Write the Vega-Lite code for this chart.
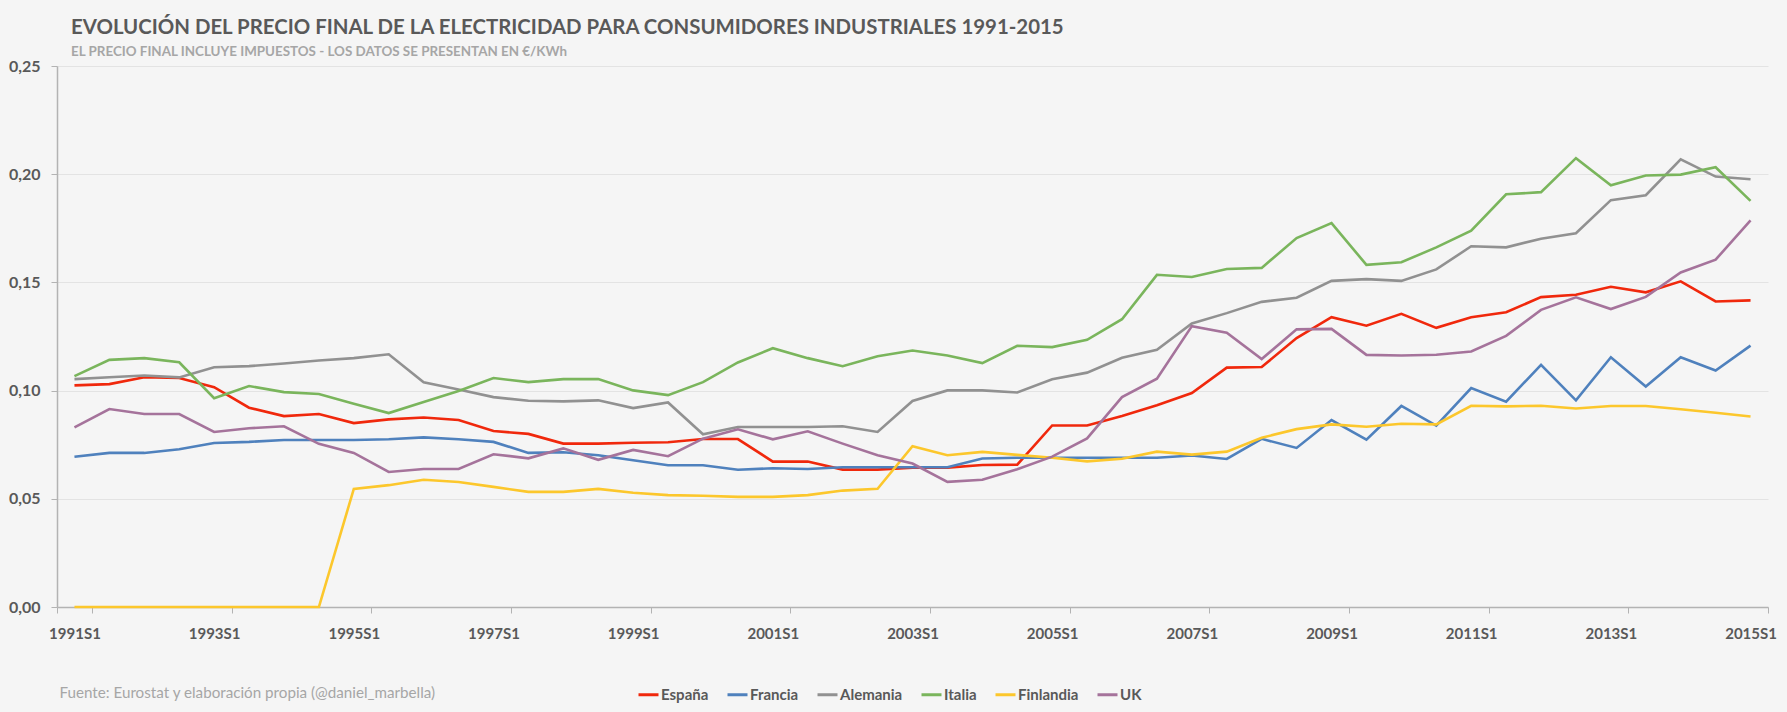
{
"$schema": "https://vega.github.io/schema/vega-lite/v6.json",
"width": 1711, "height": 541,
"autosize": {"type": "none"},
"padding": {"left": 57, "top": 66, "right": 19, "bottom": 105},
"background": "#f5f5f5",
"title": {"text": "EVOLUCIÓN DEL PRECIO FINAL DE LA ELECTRICIDAD PARA CONSUMIDORES INDUSTRIALES 1991-2015", "subtitle": "EL PRECIO FINAL INCLUYE IMPUESTOS - LOS DATOS SE PRESENTAN EN €/KWh", "anchor": "start", "frame": "group", "dx": 14, "offset": 0, "font": "Lato", "fontSize": 20.4, "fontWeight": "bold", "color": "#595959", "subtitleFont": "Lato", "subtitleFontSize": 13.4, "subtitleFontWeight": "bold", "subtitleColor": "#a6a6a6", "subtitlePadding": 6},
"datasets": {"d": [
{"periodo":"1991S1","pais":"España","precio":0.1024},{"periodo":"1991S2","pais":"España","precio":0.1030},{"periodo":"1992S1","pais":"España","precio":0.1062},{"periodo":"1992S2","pais":"España","precio":0.1058},{"periodo":"1993S1","pais":"España","precio":0.1016},{"periodo":"1993S2","pais":"España","precio":0.0921},{"periodo":"1994S1","pais":"España","precio":0.0882},{"periodo":"1994S2","pais":"España","precio":0.0892},{"periodo":"1995S1","pais":"España","precio":0.0850},{"periodo":"1995S2","pais":"España","precio":0.0867},{"periodo":"1996S1","pais":"España","precio":0.0876},{"periodo":"1996S2","pais":"España","precio":0.0864},{"periodo":"1997S1","pais":"España","precio":0.0813},{"periodo":"1997S2","pais":"España","precio":0.0800},{"periodo":"1998S1","pais":"España","precio":0.0755},{"periodo":"1998S2","pais":"España","precio":0.0755},{"periodo":"1999S1","pais":"España","precio":0.0759},{"periodo":"1999S2","pais":"España","precio":0.0761},{"periodo":"2000S1","pais":"España","precio":0.0776},{"periodo":"2000S2","pais":"España","precio":0.0776},{"periodo":"2001S1","pais":"España","precio":0.0672},{"periodo":"2001S2","pais":"España","precio":0.0672},{"periodo":"2002S1","pais":"España","precio":0.0635},{"periodo":"2002S2","pais":"España","precio":0.0635},{"periodo":"2003S1","pais":"España","precio":0.0644},{"periodo":"2003S2","pais":"España","precio":0.0644},{"periodo":"2004S1","pais":"España","precio":0.0656},{"periodo":"2004S2","pais":"España","precio":0.0658},{"periodo":"2005S1","pais":"España","precio":0.0839},{"periodo":"2005S2","pais":"España","precio":0.0839},{"periodo":"2006S1","pais":"España","precio":0.0883},{"periodo":"2006S2","pais":"España","precio":0.0932},{"periodo":"2007S1","pais":"España","precio":0.0989},{"periodo":"2007S2","pais":"España","precio":0.1106},{"periodo":"2008S1","pais":"España","precio":0.1109},{"periodo":"2008S2","pais":"España","precio":0.1243},{"periodo":"2009S1","pais":"España","precio":0.1339},{"periodo":"2009S2","pais":"España","precio":0.1300},{"periodo":"2010S1","pais":"España","precio":0.1355},{"periodo":"2010S2","pais":"España","precio":0.1290},{"periodo":"2011S1","pais":"España","precio":0.1339},{"periodo":"2011S2","pais":"España","precio":0.1362},{"periodo":"2012S1","pais":"España","precio":0.1432},{"periodo":"2012S2","pais":"España","precio":0.1443},{"periodo":"2013S1","pais":"España","precio":0.1480},{"periodo":"2013S2","pais":"España","precio":0.1454},{"periodo":"2014S1","pais":"España","precio":0.1505},{"periodo":"2014S2","pais":"España","precio":0.1412},{"periodo":"2015S1","pais":"España","precio":0.1417},
{"periodo":"1991S1","pais":"Francia","precio":0.0694},{"periodo":"1991S2","pais":"Francia","precio":0.0712},{"periodo":"1992S1","pais":"Francia","precio":0.0712},{"periodo":"1992S2","pais":"Francia","precio":0.0729},{"periodo":"1993S1","pais":"Francia","precio":0.0758},{"periodo":"1993S2","pais":"Francia","precio":0.0763},{"periodo":"1994S1","pais":"Francia","precio":0.0772},{"periodo":"1994S2","pais":"Francia","precio":0.0772},{"periodo":"1995S1","pais":"Francia","precio":0.0772},{"periodo":"1995S2","pais":"Francia","precio":0.0775},{"periodo":"1996S1","pais":"Francia","precio":0.0784},{"periodo":"1996S2","pais":"Francia","precio":0.0775},{"periodo":"1997S1","pais":"Francia","precio":0.0763},{"periodo":"1997S2","pais":"Francia","precio":0.0712},{"periodo":"1998S1","pais":"Francia","precio":0.0715},{"periodo":"1998S2","pais":"Francia","precio":0.0701},{"periodo":"1999S1","pais":"Francia","precio":0.0678},{"periodo":"1999S2","pais":"Francia","precio":0.0655},{"periodo":"2000S1","pais":"Francia","precio":0.0655},{"periodo":"2000S2","pais":"Francia","precio":0.0634},{"periodo":"2001S1","pais":"Francia","precio":0.0641},{"periodo":"2001S2","pais":"Francia","precio":0.0638},{"periodo":"2002S1","pais":"Francia","precio":0.0646},{"periodo":"2002S2","pais":"Francia","precio":0.0646},{"periodo":"2003S1","pais":"Francia","precio":0.0646},{"periodo":"2003S2","pais":"Francia","precio":0.0646},{"periodo":"2004S1","pais":"Francia","precio":0.0686},{"periodo":"2004S2","pais":"Francia","precio":0.0690},{"periodo":"2005S1","pais":"Francia","precio":0.0690},{"periodo":"2005S2","pais":"Francia","precio":0.0690},{"periodo":"2006S1","pais":"Francia","precio":0.0690},{"periodo":"2006S2","pais":"Francia","precio":0.0690},{"periodo":"2007S1","pais":"Francia","precio":0.0700},{"periodo":"2007S2","pais":"Francia","precio":0.0684},{"periodo":"2008S1","pais":"Francia","precio":0.0777},{"periodo":"2008S2","pais":"Francia","precio":0.0735},{"periodo":"2009S1","pais":"Francia","precio":0.0864},{"periodo":"2009S2","pais":"Francia","precio":0.0773},{"periodo":"2010S1","pais":"Francia","precio":0.0929},{"periodo":"2010S2","pais":"Francia","precio":0.0838},{"periodo":"2011S1","pais":"Francia","precio":0.1012},{"periodo":"2011S2","pais":"Francia","precio":0.0949},{"periodo":"2012S1","pais":"Francia","precio":0.1119},{"periodo":"2012S2","pais":"Francia","precio":0.0955},{"periodo":"2013S1","pais":"Francia","precio":0.1154},{"periodo":"2013S2","pais":"Francia","precio":0.1019},{"periodo":"2014S1","pais":"Francia","precio":0.1154},{"periodo":"2014S2","pais":"Francia","precio":0.1093},{"periodo":"2015S1","pais":"Francia","precio":0.1208},
{"periodo":"1991S1","pais":"Alemania","precio":0.1053},{"periodo":"1991S2","pais":"Alemania","precio":0.1062},{"periodo":"1992S1","pais":"Alemania","precio":0.1070},{"periodo":"1992S2","pais":"Alemania","precio":0.1061},{"periodo":"1993S1","pais":"Alemania","precio":0.1108},{"periodo":"1993S2","pais":"Alemania","precio":0.1113},{"periodo":"1994S1","pais":"Alemania","precio":0.1125},{"periodo":"1994S2","pais":"Alemania","precio":0.1139},{"periodo":"1995S1","pais":"Alemania","precio":0.1150},{"periodo":"1995S2","pais":"Alemania","precio":0.1168},{"periodo":"1996S1","pais":"Alemania","precio":0.1038},{"periodo":"1996S2","pais":"Alemania","precio":0.1005},{"periodo":"1997S1","pais":"Alemania","precio":0.0970},{"periodo":"1997S2","pais":"Alemania","precio":0.0953},{"periodo":"1998S1","pais":"Alemania","precio":0.0950},{"periodo":"1998S2","pais":"Alemania","precio":0.0955},{"periodo":"1999S1","pais":"Alemania","precio":0.0919},{"periodo":"1999S2","pais":"Alemania","precio":0.0945},{"periodo":"2000S1","pais":"Alemania","precio":0.0798},{"periodo":"2000S2","pais":"Alemania","precio":0.0832},{"periodo":"2001S1","pais":"Alemania","precio":0.0832},{"periodo":"2001S2","pais":"Alemania","precio":0.0832},{"periodo":"2002S1","pais":"Alemania","precio":0.0835},{"periodo":"2002S2","pais":"Alemania","precio":0.0809},{"periodo":"2003S1","pais":"Alemania","precio":0.0952},{"periodo":"2003S2","pais":"Alemania","precio":0.1001},{"periodo":"2004S1","pais":"Alemania","precio":0.1001},{"periodo":"2004S2","pais":"Alemania","precio":0.0991},{"periodo":"2005S1","pais":"Alemania","precio":0.1052},{"periodo":"2005S2","pais":"Alemania","precio":0.1083},{"periodo":"2006S1","pais":"Alemania","precio":0.1152},{"periodo":"2006S2","pais":"Alemania","precio":0.1189},{"periodo":"2007S1","pais":"Alemania","precio":0.1310},{"periodo":"2007S2","pais":"Alemania","precio":0.1358},{"periodo":"2008S1","pais":"Alemania","precio":0.1410},{"periodo":"2008S2","pais":"Alemania","precio":0.1429},{"periodo":"2009S1","pais":"Alemania","precio":0.1507},{"periodo":"2009S2","pais":"Alemania","precio":0.1515},{"periodo":"2010S1","pais":"Alemania","precio":0.1507},{"periodo":"2010S2","pais":"Alemania","precio":0.1560},{"periodo":"2011S1","pais":"Alemania","precio":0.1667},{"periodo":"2011S2","pais":"Alemania","precio":0.1662},{"periodo":"2012S1","pais":"Alemania","precio":0.1702},{"periodo":"2012S2","pais":"Alemania","precio":0.1727},{"periodo":"2013S1","pais":"Alemania","precio":0.1880},{"periodo":"2013S2","pais":"Alemania","precio":0.1903},{"periodo":"2014S1","pais":"Alemania","precio":0.2069},{"periodo":"2014S2","pais":"Alemania","precio":0.1989},{"periodo":"2015S1","pais":"Alemania","precio":0.1977},
{"periodo":"1991S1","pais":"Italia","precio":0.1067},{"periodo":"1991S2","pais":"Italia","precio":0.1142},{"periodo":"1992S1","pais":"Italia","precio":0.1150},{"periodo":"1992S2","pais":"Italia","precio":0.1131},{"periodo":"1993S1","pais":"Italia","precio":0.0965},{"periodo":"1993S2","pais":"Italia","precio":0.1021},{"periodo":"1994S1","pais":"Italia","precio":0.0993},{"periodo":"1994S2","pais":"Italia","precio":0.0984},{"periodo":"1995S1","pais":"Italia","precio":0.0939},{"periodo":"1995S2","pais":"Italia","precio":0.0896},{"periodo":"1996S1","pais":"Italia","precio":0.0947},{"periodo":"1996S2","pais":"Italia","precio":0.0998},{"periodo":"1997S1","pais":"Italia","precio":0.1058},{"periodo":"1997S2","pais":"Italia","precio":0.1039},{"periodo":"1998S1","pais":"Italia","precio":0.1053},{"periodo":"1998S2","pais":"Italia","precio":0.1053},{"periodo":"1999S1","pais":"Italia","precio":0.1001},{"periodo":"1999S2","pais":"Italia","precio":0.0979},{"periodo":"2000S1","pais":"Italia","precio":0.1039},{"periodo":"2000S2","pais":"Italia","precio":0.1130},{"periodo":"2001S1","pais":"Italia","precio":0.1196},{"periodo":"2001S2","pais":"Italia","precio":0.1150},{"periodo":"2002S1","pais":"Italia","precio":0.1113},{"periodo":"2002S2","pais":"Italia","precio":0.1159},{"periodo":"2003S1","pais":"Italia","precio":0.1185},{"periodo":"2003S2","pais":"Italia","precio":0.1162},{"periodo":"2004S1","pais":"Italia","precio":0.1127},{"periodo":"2004S2","pais":"Italia","precio":0.1207},{"periodo":"2005S1","pais":"Italia","precio":0.1201},{"periodo":"2005S2","pais":"Italia","precio":0.1235},{"periodo":"2006S1","pais":"Italia","precio":0.1330},{"periodo":"2006S2","pais":"Italia","precio":0.1535},{"periodo":"2007S1","pais":"Italia","precio":0.1525},{"periodo":"2007S2","pais":"Italia","precio":0.1562},{"periodo":"2008S1","pais":"Italia","precio":0.1567},{"periodo":"2008S2","pais":"Italia","precio":0.1705},{"periodo":"2009S1","pais":"Italia","precio":0.1774},{"periodo":"2009S2","pais":"Italia","precio":0.1581},{"periodo":"2010S1","pais":"Italia","precio":0.1593},{"periodo":"2010S2","pais":"Italia","precio":0.1662},{"periodo":"2011S1","pais":"Italia","precio":0.1739},{"periodo":"2011S2","pais":"Italia","precio":0.1907},{"periodo":"2012S1","pais":"Italia","precio":0.1917},{"periodo":"2012S2","pais":"Italia","precio":0.2074},{"periodo":"2013S1","pais":"Italia","precio":0.1949},{"periodo":"2013S2","pais":"Italia","precio":0.1994},{"periodo":"2014S1","pais":"Italia","precio":0.1998},{"periodo":"2014S2","pais":"Italia","precio":0.2032},{"periodo":"2015S1","pais":"Italia","precio":0.1877},
{"periodo":"1991S1","pais":"Finlandia","precio":0},{"periodo":"1991S2","pais":"Finlandia","precio":0},{"periodo":"1992S1","pais":"Finlandia","precio":0},{"periodo":"1992S2","pais":"Finlandia","precio":0},{"periodo":"1993S1","pais":"Finlandia","precio":0},{"periodo":"1993S2","pais":"Finlandia","precio":0},{"periodo":"1994S1","pais":"Finlandia","precio":0},{"periodo":"1994S2","pais":"Finlandia","precio":0},{"periodo":"1995S1","pais":"Finlandia","precio":0.0546},{"periodo":"1995S2","pais":"Finlandia","precio":0.0563},{"periodo":"1996S1","pais":"Finlandia","precio":0.0588},{"periodo":"1996S2","pais":"Finlandia","precio":0.0578},{"periodo":"1997S1","pais":"Finlandia","precio":0.0555},{"periodo":"1997S2","pais":"Finlandia","precio":0.0532},{"periodo":"1998S1","pais":"Finlandia","precio":0.0532},{"periodo":"1998S2","pais":"Finlandia","precio":0.0546},{"periodo":"1999S1","pais":"Finlandia","precio":0.0528},{"periodo":"1999S2","pais":"Finlandia","precio":0.0517},{"periodo":"2000S1","pais":"Finlandia","precio":0.0514},{"periodo":"2000S2","pais":"Finlandia","precio":0.0509},{"periodo":"2001S1","pais":"Finlandia","precio":0.0509},{"periodo":"2001S2","pais":"Finlandia","precio":0.0517},{"periodo":"2002S1","pais":"Finlandia","precio":0.0538},{"periodo":"2002S2","pais":"Finlandia","precio":0.0546},{"periodo":"2003S1","pais":"Finlandia","precio":0.0743},{"periodo":"2003S2","pais":"Finlandia","precio":0.0701},{"periodo":"2004S1","pais":"Finlandia","precio":0.0717},{"periodo":"2004S2","pais":"Finlandia","precio":0.0703},{"periodo":"2005S1","pais":"Finlandia","precio":0.0690},{"periodo":"2005S2","pais":"Finlandia","precio":0.0673},{"periodo":"2006S1","pais":"Finlandia","precio":0.0685},{"periodo":"2006S2","pais":"Finlandia","precio":0.0718},{"periodo":"2007S1","pais":"Finlandia","precio":0.0704},{"periodo":"2007S2","pais":"Finlandia","precio":0.0718},{"periodo":"2008S1","pais":"Finlandia","precio":0.0782},{"periodo":"2008S2","pais":"Finlandia","precio":0.0822},{"periodo":"2009S1","pais":"Finlandia","precio":0.0844},{"periodo":"2009S2","pais":"Finlandia","precio":0.0833},{"periodo":"2010S1","pais":"Finlandia","precio":0.0847},{"periodo":"2010S2","pais":"Finlandia","precio":0.0844},{"periodo":"2011S1","pais":"Finlandia","precio":0.0930},{"periodo":"2011S2","pais":"Finlandia","precio":0.0927},{"periodo":"2012S1","pais":"Finlandia","precio":0.0930},{"periodo":"2012S2","pais":"Finlandia","precio":0.0917},{"periodo":"2013S1","pais":"Finlandia","precio":0.0929},{"periodo":"2013S2","pais":"Finlandia","precio":0.0929},{"periodo":"2014S1","pais":"Finlandia","precio":0.0914},{"periodo":"2014S2","pais":"Finlandia","precio":0.0898},{"periodo":"2015S1","pais":"Finlandia","precio":0.0880},
{"periodo":"1991S1","pais":"UK","precio":0.0830},{"periodo":"1991S2","pais":"UK","precio":0.0915},{"periodo":"1992S1","pais":"UK","precio":0.0892},{"periodo":"1992S2","pais":"UK","precio":0.0892},{"periodo":"1993S1","pais":"UK","precio":0.0809},{"periodo":"1993S2","pais":"UK","precio":0.0826},{"periodo":"1994S1","pais":"UK","precio":0.0835},{"periodo":"1994S2","pais":"UK","precio":0.0754},{"periodo":"1995S1","pais":"UK","precio":0.0712},{"periodo":"1995S2","pais":"UK","precio":0.0624},{"periodo":"1996S1","pais":"UK","precio":0.0638},{"periodo":"1996S2","pais":"UK","precio":0.0638},{"periodo":"1997S1","pais":"UK","precio":0.0706},{"periodo":"1997S2","pais":"UK","precio":0.0687},{"periodo":"1998S1","pais":"UK","precio":0.0733},{"periodo":"1998S2","pais":"UK","precio":0.0680},{"periodo":"1999S1","pais":"UK","precio":0.0726},{"periodo":"1999S2","pais":"UK","precio":0.0697},{"periodo":"2000S1","pais":"UK","precio":0.0778},{"periodo":"2000S2","pais":"UK","precio":0.0821},{"periodo":"2001S1","pais":"UK","precio":0.0775},{"periodo":"2001S2","pais":"UK","precio":0.0812},{"periodo":"2002S1","pais":"UK","precio":0.0755},{"periodo":"2002S2","pais":"UK","precio":0.0701},{"periodo":"2003S1","pais":"UK","precio":0.0663},{"periodo":"2003S2","pais":"UK","precio":0.0578},{"periodo":"2004S1","pais":"UK","precio":0.0588},{"periodo":"2004S2","pais":"UK","precio":0.0637},{"periodo":"2005S1","pais":"UK","precio":0.0695},{"periodo":"2005S2","pais":"UK","precio":0.0779},{"periodo":"2006S1","pais":"UK","precio":0.0970},{"periodo":"2006S2","pais":"UK","precio":0.1055},{"periodo":"2007S1","pais":"UK","precio":0.1298},{"periodo":"2007S2","pais":"UK","precio":0.1267},{"periodo":"2008S1","pais":"UK","precio":0.1146},{"periodo":"2008S2","pais":"UK","precio":0.1283},{"periodo":"2009S1","pais":"UK","precio":0.1285},{"periodo":"2009S2","pais":"UK","precio":0.1165},{"periodo":"2010S1","pais":"UK","precio":0.1162},{"periodo":"2010S2","pais":"UK","precio":0.1166},{"periodo":"2011S1","pais":"UK","precio":0.1181},{"periodo":"2011S2","pais":"UK","precio":0.1253},{"periodo":"2012S1","pais":"UK","precio":0.1373},{"periodo":"2012S2","pais":"UK","precio":0.1431},{"periodo":"2013S1","pais":"UK","precio":0.1377},{"periodo":"2013S2","pais":"UK","precio":0.1433},{"periodo":"2014S1","pais":"UK","precio":0.1546},{"periodo":"2014S2","pais":"UK","precio":0.1605},{"periodo":"2015S1","pais":"UK","precio":0.1787}
]},
"data": {"name": "d"},
"mark": {"type": "line", "strokeWidth": 2.6},
"encoding": {
"x": {"field": "periodo", "type": "ordinal", "scale": {"type": "band", "paddingInner": 0, "paddingOuter": 0},
"axis": {"values": ["1991S1","1993S1","1995S1","1997S1","1999S1","2001S1","2003S1","2005S1","2007S1","2009S1","2011S1","2013S1","2015S1"], "tickBand": "extent", "labelAngle": 0, "grid": false, "domainColor": "#b3b3b3", "domainWidth": 1.5, "tickColor": "#b3b3b3", "tickSize": 6, "labelFont": "Lato", "labelFontWeight": "bold", "labelFontSize": 15, "labelColor": "#595959", "labelPadding": 13, "title": "Fuente:  Eurostat y elaboración propia (@daniel_marbella)", "titleAnchor": "start", "titleAlign": "left", "titleX": 2, "titleY": 85, "titleBaseline": "middle", "titleFont": "Lato", "titleFontWeight": "normal", "titleFontSize": 15.2, "titleColor": "#a6a6a6"}},
"y": {"field": "precio", "type": "quantitative", "scale": {"domain": [0, 0.25], "nice": false},
"axis": {"values": [0, 0.05, 0.1, 0.15, 0.2, 0.25], "labelExpr": "replace(format(datum.value, '.2f'), '.', ',')", "title": null, "grid": true, "gridColor": "#e3e3e3", "gridWidth": 1.2, "domainColor": "#b3b3b3", "domainWidth": 1.5, "tickColor": "#b3b3b3", "tickSize": 6, "labelFont": "Lato", "labelFontWeight": "bold", "labelFontSize": 16, "labelColor": "#595959", "labelPadding": 11}},
"color": {"field": "pais", "type": "nominal", "scale": {"domain": ["España","Francia","Alemania","Italia","Finlandia","UK"], "range": ["#f0280c","#4f81bd","#919191","#7ab55c","#fcc72c","#a5739b"]},
"legend": {"title": null, "orient": "none", "direction": "horizontal", "legendX": 580, "legendY": 617, "symbolType": "stroke", "symbolSize": 400, "symbolStrokeWidth": 3, "labelFont": "Lato", "labelFontWeight": "bold", "labelFontSize": 15, "labelColor": "#595959", "labelOffset": 1, "columnPadding": 12}}
},
"config": {"view": {"stroke": null}}
}
